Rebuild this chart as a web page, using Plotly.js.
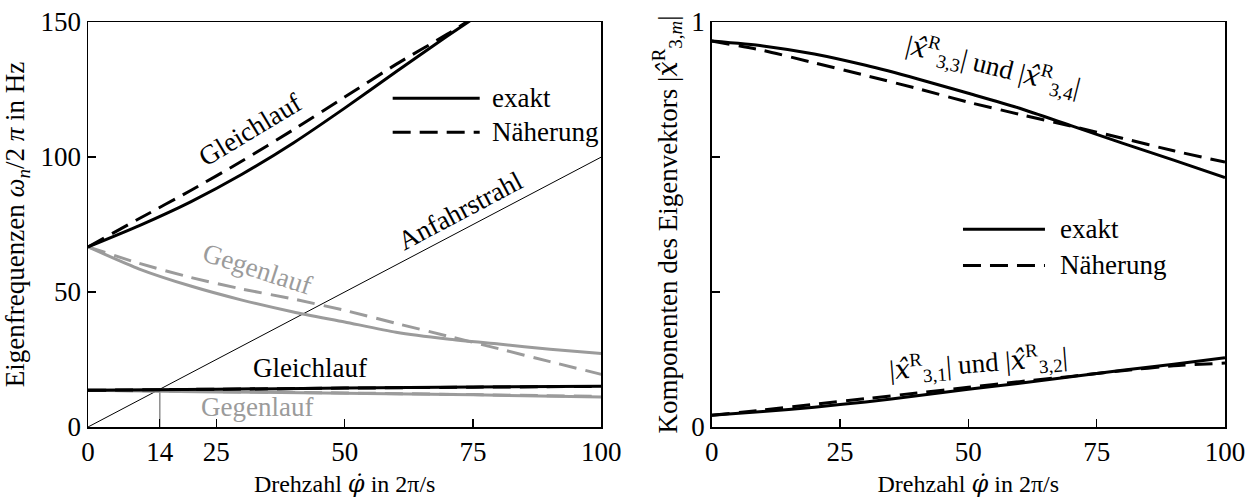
<!DOCTYPE html>
<html>
<head>
<meta charset="utf-8">
<script src="https://cdn.plot.ly/plotly-3.0.1.min.js"></script>
<style>html,body{margin:0;padding:0;background:#fff;}#chart{width:1256px;height:498px;}</style>
</head>
<body>
<div id="chart"></div>
<script>
// ---------- data ----------
// left panel: natural frequencies over speed
const speedGrid = [0, 10, 20, 30, 40, 50, 60, 70, 80, 90, 100];
const speedUpper = [0, 10, 20, 30, 40, 50, 60, 70, 75];
const gleichUpperExakt = [66.7, 74.6, 83.4, 93.6, 105.2, 118.1, 131.6, 144.8, 151.2];
const gleichUpperNaeh  = [66.7, 77.2, 87.6, 98.5, 110.1, 122.2, 134.3, 145.5, 151.5];
const gegenUpperExakt  = [66.7, 58.5, 52.2, 47.0, 42.6, 38.9, 35.1, 32.6, 30.7, 28.8, 27.2];
const gegenUpperNaeh   = [66.7, 60.6, 55.4, 51.1, 47.4, 43.2, 38.4, 33.7, 29.0, 24.2, 19.5];
const speedLower = [0, 25, 50, 75, 100];
const gleichLowerExakt = [13.6, 14.0, 14.4, 14.8, 15.1];
const gleichLowerNaeh  = [13.6, 14.0, 14.4, 14.75, 15.05];
const gegenLowerExakt  = [13.6, 13.0, 12.5, 11.9, 11.1];
const gegenLowerNaeh   = [13.6, 13.1, 12.6, 12.0, 11.3];
const rampX = [0, 100];
const rampY = [0, 100];
const critSpeedX = [14, 14];
const critSpeedY = [0, 14];
// right panel: eigenvector components
const compUpperExakt = [0.953, 0.941, 0.921, 0.893, 0.860, 0.824, 0.787, 0.744, 0.701, 0.659, 0.616];
const compUpperNaeh  = [0.953, 0.930, 0.899, 0.868, 0.836, 0.802, 0.772, 0.743, 0.713, 0.682, 0.654];
const compLowerExakt = [0.029, 0.038, 0.049, 0.062, 0.077, 0.093, 0.108, 0.124, 0.140, 0.155, 0.171];
const compLowerNaeh  = [0.029, 0.042, 0.056, 0.070, 0.084, 0.098, 0.112, 0.125, 0.139, 0.151, 0.158];
// tick labels
const xTickVals1 = [0, 14, 25, 50, 75, 100];
const xTickText1 = ['0', '14', '25', '50', '75', '100'];
const yTickVals1 = [0, 50, 100, 150];
const yTickText1 = ['0', '50', '100', '150'];
const xTickVals2 = [0, 25, 50, 75, 100];
const xTickText2 = ['0', '25', '50', '75', '100'];
const yTickVals2 = [0, 1];
const yTickText2 = ['0', '1'];
const yMinorVals2 = [1/3, 2/3];

// ---------- styles ----------
const FONT = 'Liberation Serif';
const BLACK = '#000000';
const GRAY = '#9b9b9b';
const DASH = '18px,9px';
const LW = 3;

function tr(x, y, color, dash, width, xa, ya) {
  return {
    x: x, y: y, type: 'scatter', mode: 'lines', xaxis: xa, yaxis: ya,
    line: {color: color, width: width, dash: dash, shape: 'spline', smoothing: 0.6},
    hoverinfo: 'skip', showlegend: false, cliponaxis: true
  };
}

const data = [
  tr(rampX, rampY, BLACK, 'solid', 1, 'x', 'y'),
  tr(critSpeedX, critSpeedY, '#555555', 'solid', 1, 'x', 'y'),
  tr(speedGrid, gegenUpperExakt, GRAY, 'solid', LW, 'x', 'y'),
  tr(speedGrid, gegenUpperNaeh, GRAY, DASH, LW, 'x', 'y'),
  tr(speedLower, gegenLowerNaeh, GRAY, DASH, LW, 'x', 'y'),
  tr(speedLower, gegenLowerExakt, GRAY, 'solid', LW, 'x', 'y'),
  tr(speedLower, gleichLowerNaeh, BLACK, DASH, LW, 'x', 'y'),
  tr(speedLower, gleichLowerExakt, BLACK, 'solid', LW, 'x', 'y'),
  tr(speedUpper, gleichUpperNaeh, BLACK, DASH, LW, 'x', 'y'),
  tr(speedUpper, gleichUpperExakt, BLACK, 'solid', LW, 'x', 'y'),
  tr(speedGrid, compUpperNaeh, BLACK, DASH, LW, 'x2', 'y2'),
  tr(speedGrid, compUpperExakt, BLACK, 'solid', LW, 'x2', 'y2'),
  tr(speedGrid, compLowerNaeh, BLACK, DASH, LW, 'x2', 'y2'),
  tr(speedGrid, compLowerExakt, BLACK, 'solid', LW, 'x2', 'y2')
];

function axisBase() {
  return {
    showline: true, mirror: true, linecolor: BLACK, linewidth: 1.5,
    ticks: 'inside', ticklen: 8, tickwidth: 1.2, tickcolor: BLACK,
    showgrid: false, zeroline: false, fixedrange: true,
    tickfont: {family: FONT, size: 27, color: BLACK}
  };
}

const XHAT = '<span style="font-family:DejaVu Serif"><i>x̂</i></span>';
const xTitle = 'Drehzahl <span style="font-family:DejaVu Serif"><i>φ̇</i></span> in 2π/s';
function comp(idx) { return '|' + XHAT + '<sup>R</sup><sub>3,' + idx + '</sub>|'; }

const layout = {
  width: 1256, height: 498,
  margin: {l: 88, r: 31, t: 22, b: 71},
  paper_bgcolor: '#ffffff', plot_bgcolor: '#ffffff',
  showlegend: false,
  font: {family: FONT, color: BLACK, size: 25},
  xaxis: Object.assign(axisBase(), {
    domain: [0, 0.4515], range: [0, 100], tickmode: 'array',
    tickvals: xTickVals1, ticktext: xTickText1,
    title: {text: xTitle, font: {family: FONT, size: 24, color: BLACK}, standoff: 12}
  }),
  yaxis: Object.assign(axisBase(), {
    range: [0, 150], tickmode: 'array', tickvals: yTickVals1, ticktext: yTickText1,
    title: {text: 'Eigenfrequenzen <i>ω<sub>n</sub></i>/2 <i>π</i> in Hz', font: {family: FONT, size: 27, color: BLACK}, standoff: 10}
  }),
  xaxis2: Object.assign(axisBase(), {
    domain: [0.5485, 1], range: [0, 100], anchor: 'y2', tickmode: 'array',
    tickvals: xTickVals2, ticktext: xTickText2,
    title: {text: xTitle, font: {family: FONT, size: 24, color: BLACK}, standoff: 12}
  }),
  yaxis2: Object.assign(axisBase(), {
    range: [0, 1], anchor: 'x2', tickmode: 'array', tickvals: yTickVals2, ticktext: yTickText2,
    minor: {tickmode: 'array', tickvals: yMinorVals2, ticks: 'inside', ticklen: 8, tickwidth: 1.2, tickcolor: BLACK, showgrid: false},
    title: {text: 'Komponenten des Eigenvektors ' + comp('<i>m</i>'), font: {family: FONT, size: 27, color: BLACK}, standoff: 6}
  }),
  shapes: [
    {type: 'line', xref: 'x domain', yref: 'y domain', x0: 0.5935, x1: 0.763, y0: 0.8116, y1: 0.8116, line: {color: BLACK, width: LW}},
    {type: 'line', xref: 'x domain', yref: 'y domain', x0: 0.5935, x1: 0.763, y0: 0.7277, y1: 0.7277, line: {color: BLACK, width: LW, dash: DASH}},
    {type: 'line', xref: 'x2 domain', yref: 'y2 domain', x0: 0.4896, x1: 0.6493, y0: 0.488, y1: 0.488, line: {color: BLACK, width: LW}},
    {type: 'line', xref: 'x2 domain', yref: 'y2 domain', x0: 0.4896, x1: 0.6493, y0: 0.399, y1: 0.399, line: {color: BLACK, width: LW, dash: DASH}}
  ],
  annotations: [
    {xref: 'x domain', yref: 'y domain', x: 0.7825, y: 0.8116, xanchor: 'left', yanchor: 'middle', text: 'exakt', showarrow: false, font: {family: FONT, size: 27, color: BLACK}},
    {xref: 'x domain', yref: 'y domain', x: 0.7825, y: 0.7277, xanchor: 'left', yanchor: 'middle', text: 'Näherung', showarrow: false, font: {family: FONT, size: 27, color: BLACK}},
    {xref: 'x2 domain', yref: 'y2 domain', x: 0.675, y: 0.488, xanchor: 'left', yanchor: 'middle', text: 'exakt', showarrow: false, font: {family: FONT, size: 27, color: BLACK}},
    {xref: 'x2 domain', yref: 'y2 domain', x: 0.675, y: 0.399, xanchor: 'left', yanchor: 'middle', text: 'Näherung', showarrow: false, font: {family: FONT, size: 27, color: BLACK}},
    {xref: 'x', yref: 'y', x: 31.5, y: 110, text: 'Gleichlauf', textangle: -31, showarrow: false, font: {family: FONT, size: 27, color: BLACK}},
    {xref: 'x', yref: 'y', x: 72.4, y: 80, text: 'Anfahrstrahl', textangle: -28, showarrow: false, font: {family: FONT, size: 27, color: BLACK}},
    {xref: 'x', yref: 'y', x: 33, y: 58.4, text: 'Gegenlauf', textangle: 18, showarrow: false, font: {family: FONT, size: 27, color: GRAY}},
    {xref: 'x', yref: 'y', x: 43.2, y: 21.7, text: 'Gleichlauf', showarrow: false, font: {family: FONT, size: 27, color: BLACK}},
    {xref: 'x', yref: 'y', x: 33, y: 7.3, text: 'Gegenlauf', showarrow: false, font: {family: FONT, size: 27, color: GRAY}},
    {xref: 'x2', yref: 'y2', x: 55, y: 0.891, text: comp('3') + ' und ' + comp('4'), textangle: 14, showarrow: false, font: {family: FONT, size: 27, color: BLACK}},
    {xref: 'x2', yref: 'y2', x: 52, y: 0.158, text: comp('1') + ' und ' + comp('2'), textangle: -4.5, showarrow: false, font: {family: FONT, size: 27, color: BLACK}}
  ]
};

Plotly.newPlot('chart', data, layout, {staticPlot: true, displayModeBar: false});
</script>
</body>
</html>
